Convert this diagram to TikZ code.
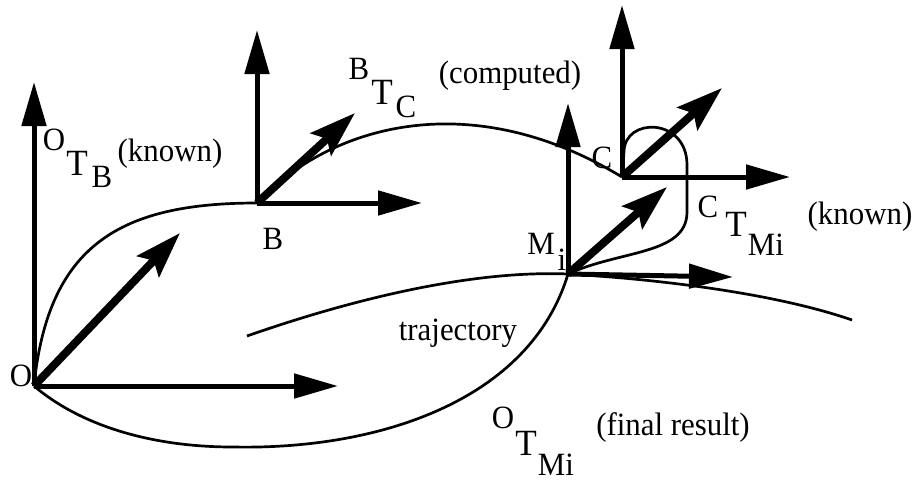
\documentclass[tikz,border=0pt]{standalone}
\usepackage{fontspec}
\setmainfont{Liberation Serif}[FakeStretch=0.95]
\usetikzlibrary{arrows.meta}
\begin{document}
\begin{tikzpicture}[x=1pt,y=-1pt,
  axis/.style={line width=5pt,-{Triangle[length=44pt,width=24pt]}},
  diag/.style={line width=8pt,-{Stealth[length=46pt,width=30pt,inset=8pt]}},
  curve/.style={line width=2.7pt},
  lbl/.style={inner sep=0pt,font=\fontsize{32.5}{32.5}\selectfont},
  tlbl/.style={inner sep=0pt,font=\fontsize{37}{37}\selectfont}]
\fill[white] (0,0) rectangle (916,483);
\useasboundingbox (0,0) rectangle (916,483);

% frame origins
\coordinate (O) at (34,386);
\coordinate (B) at (257,203);
\coordinate (C) at (622,177);
\coordinate (M) at (568,274);
% axis tips
\coordinate (Ou) at (34,82);   \coordinate (Or) at (338,386); \coordinate (Od) at (180,233);
\coordinate (Bu) at (257,30);  \coordinate (Br) at (422,203); \coordinate (Bd) at (355,113);
\coordinate (Cu) at (622,5);   \coordinate (Cr) at (790,177); \coordinate (Cd) at (722,88);
\coordinate (Mu) at (568,103); \coordinate (Mr) at (733,277); \coordinate (Md) at (667,187);
% curve helpers
\coordinate (Low) at (233,447);
\coordinate (T1) at (247,336);
\coordinate (T2) at (852,320);
\coordinate (L1) at (624,152);
\coordinate (L2) at (687,165);
\coordinate (L3) at (687,212);

% curves
\draw[curve] (O) .. controls (48,245) and (120,203) .. (B);
\draw[curve] (B) .. controls (330,125) and (470,85) .. (C);
\draw[curve] (O) .. controls (80,425) and (150,447) .. (Low)
                 .. controls (380,450) and (530,400) .. (M);
\draw[curve] (T1) .. controls (350,300) and (470,270) .. (M)
                  .. controls (670,280) and (780,295) .. (T2);
\draw[curve] (C) -- (L1) .. controls (624,117) and (687,117) .. (L2) -- (L3)
                 .. controls (687,255) and (620,250) .. (M);

% frames
\foreach \p in {O,B,C,M}{
  \draw[axis] (\p) -- (\p u);
  \draw[axis] (\p) -- (\p r);
  \draw[diag] (\p) -- (\p d);
}

% point labels
\node[lbl] (lO) at (21,376) {O};
\node[lbl] (lB) at (273,239) {B};
\node[lbl] (lC) at (602,158) {C};
\node[lbl] (lM) at (541,244) {M};
\node[lbl] (lMi) at (562,260) {i};

% transform labels
\node[lbl] (a1) at (54,140) {O};
\node[tlbl] (a2) at (77,163) {T};
\node[lbl] (a3) at (102,177) {B};
\node[lbl] (a4) at (170,154) {(known)};

\node[lbl] (b1) at (359,69) {B};
\node[tlbl] (b2) at (382,92) {T};
\node[lbl] (b3) at (406,107) {C};
\node[lbl] (b4) at (510,76) {(computed)};

\node[lbl] (c1) at (708,207) {C};
\node[tlbl] (c2) at (736,224) {T};
\node[lbl] (c3) at (766,245) {Mi};
\node[lbl] (c4) at (860,217) {(known)};

\node[lbl] (d1) at (503,418) {O};
\node[tlbl] (d2) at (526,443) {T};
\node[lbl] (d3) at (556,465) {Mi};
\node[lbl] (d4) at (673,428) {(final result)};

\node[lbl] (tr) at (458,333) {trajectory};
\end{tikzpicture}
\end{document}
